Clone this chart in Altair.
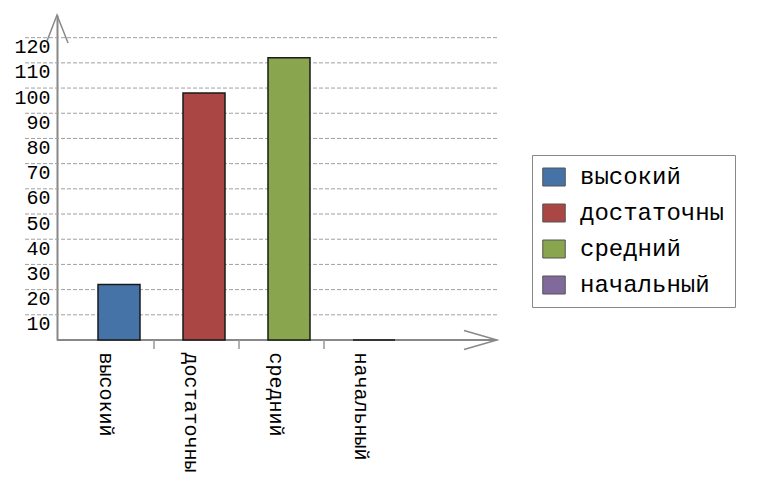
import altair as alt
import pandas as pd

categories = ["высокий", "достаточны", "средний", "начальный"]
values = [22, 98, 112, 0]
colors = ["#4572A7", "#AA4643", "#89A54E", "#80699B"]
y_ticks = [10, 20, 30, 40, 50, 60, 70, 80, 90, 100, 110, 120]

W, H = 440, 325
FONT = "Liberation Mono"

df = pd.DataFrame({"category": categories, "value": values})
grid_df = pd.DataFrame({"tick": y_ticks})
sep_df = pd.DataFrame({"category": categories[:-1]})
one_df = pd.DataFrame({"a": [0]})

x_scale = alt.Scale(domain=categories, range=[19.5, 359.5], paddingInner=0, paddingOuter=0)
y_scale = alt.Scale(domain=[0, 129], nice=False, zero=True)

y_axis = alt.Axis(values=y_ticks, grid=False, ticks=False, tickSize=0,
                  domainColor="#888888", domainWidth=2,
                  labelFont=FONT, labelFontSize=20, labelColor="#000000",
                  labelPadding=7, labelOffset=9, labelFlush=False,
                  labelOverlap=False, title=None)
x_axis = alt.Axis(labelAngle=90, labelAlign="left", labelBaseline="middle",
                  labelPadding=12, labelOffset=-13, ticks=False, tickSize=0,
                  domain=False,
                  labelFont=FONT, labelFontSize=20, labelColor="#000000",
                  title=None)

grid = alt.Chart(grid_df).mark_rule(color="#a0a0a0", strokeDash=[4, 2], strokeWidth=1).encode(
    y=alt.Y("tick:Q", scale=y_scale, axis=y_axis),
    x=alt.value(-32), x2=alt.value(W),
)

x_line = alt.Chart(one_df).mark_rule(color="#888888", strokeWidth=2).encode(
    x=alt.value(0), x2=alt.value(W), y=alt.value(H),
)

bars = alt.Chart(df).mark_bar(width=42, stroke="#1a1a1a", strokeWidth=1.5).encode(
    x=alt.X("category:N", sort=categories, scale=x_scale, axis=x_axis),
    y=alt.Y("value:Q", scale=y_scale, axis=y_axis),
    color=alt.Color(
        "category:N",
        scale=alt.Scale(domain=categories, range=colors),
        legend=alt.Legend(
            orient="none", legendX=475, legendY=140, title=None,
            symbolType="M-1.25,-1H1.25V1H-1.25Z", symbolSize=324,
            symbolStrokeColor="#555555", symbolStrokeWidth=1, symbolOpacity=1,
            labelFont=FONT, labelFontSize=24, labelColor="#000000",
            labelOffset=14, rowPadding=12, padding=10,
            strokeColor="#888888", fillColor="#ffffff",
        ),
    ),
)

seps = alt.Chart(sep_df).mark_rule(color="#999999", strokeWidth=1.5, xOffset=35).encode(
    x=alt.X("category:N", sort=categories, scale=x_scale, axis=x_axis),
    y=alt.value(H), y2=alt.value(H + 9),
)

up_arrow = alt.Chart(one_df).mark_point(
    shape="M-0.37,0.96L0,0L0.41,1.04", size=2916, filled=False,
    stroke="#888888", strokeWidth=1.5, opacity=1,
).encode(x=alt.value(0), y=alt.value(0))

right_arrow = alt.Chart(one_df).mark_point(
    shape="M-1,-0.29L0,0L-1,0.29", size=4356, filled=False,
    stroke="#888888", strokeWidth=1.5, opacity=1,
).encode(x=alt.value(W), y=alt.value(H))

chart = alt.layer(grid, x_line, bars, seps, up_arrow, right_arrow).properties(
    width=W, height=H,
    padding={"left": 49, "top": 7, "right": 255, "bottom": 135},
    autosize="none",
).configure_view(stroke=None)

chart.save("out.html", embed_options={"renderer": "svg", "actions": False})
